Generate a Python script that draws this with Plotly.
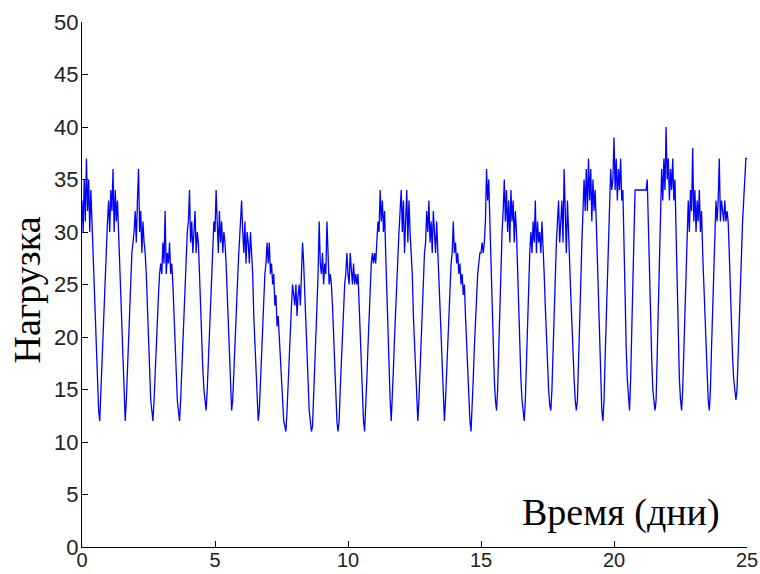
import numpy as np
import plotly.graph_objects as go

# Hourly load values, one list per day (hours 0..23)
day01 = [33, 30, 35, 31, 37, 32, 35, 30, 34, 31, 28, 24, 20, 17, 15, 13, 12, 15, 18, 21, 24, 27, 29, 31]
day02 = [33, 30, 34, 32, 36, 30, 34, 31, 33, 30, 27, 23, 20, 17, 14, 12, 14, 17, 20, 23, 26, 28, 29, 30]
day03 = [32, 29, 33, 36, 30, 32, 28, 31, 29, 28, 26, 23, 19, 16, 14, 13, 12, 14, 17, 20, 22, 24, 26, 27]
day04 = [26, 29, 27, 32, 26, 28, 27, 29, 26, 27, 25, 22, 19, 16, 14, 13, 12, 14, 17, 20, 23, 26, 28, 30]
day05 = [31, 34, 29, 31, 28, 30, 32, 28, 30, 29, 26, 22, 19, 17, 15, 14, 13, 15, 18, 21, 24, 27, 29, 31]
day06 = [30, 34, 31, 28, 32, 29, 31, 28, 30, 29, 27, 24, 20, 17, 15, 13, 14, 17, 20, 23, 25, 27, 29, 31]
day07 = [33, 30, 28, 31, 27, 30, 29, 27, 30, 28, 26, 22, 19, 16, 14, 12, 13, 16, 19, 22, 24, 26, 27, 29]
day08 = [27, 29, 26, 27, 25, 26, 23, 24, 21, 22, 20, 18, 16, 14, 12, 11.5, 11, 13, 16, 19, 21, 23, 25, 24]
day09 = [23, 25, 22, 24, 25, 23, 26, 29, 27, 24, 21, 18, 15, 13, 12, 11, 11.5, 14, 17, 20, 23, 26, 31, 27]
day10 = [26, 28, 25, 27, 26, 31, 27, 25, 26, 25, 23, 20, 17, 14, 12, 11, 12, 15, 18, 21, 23, 25, 26, 28]
day11 = [26, 25, 28, 26, 25, 27, 25, 26, 25, 26, 23, 20, 17, 14, 12, 11, 13, 16, 19, 22, 25, 27, 28, 27]
day12 = [28, 27, 29, 31, 30, 34, 31, 33, 30, 32, 28, 24, 20, 17, 14, 12, 14, 17, 20, 23, 26, 28, 30, 32]
day13 = [34, 30, 33, 28, 32, 34, 29, 33, 30, 28, 26, 22, 19, 16, 14, 12, 14, 17, 20, 23, 26, 28, 29, 32]
day14 = [30, 33, 29, 31, 28, 32, 30, 28, 31, 28, 26, 22, 19, 16, 14, 12, 14, 17, 20, 23, 25, 27, 28, 31]
day15 = [28, 29, 27, 28, 26, 27, 25, 26, 24, 25, 22, 19, 16, 14, 12, 11, 13, 16, 19, 22, 24, 26, 27, 28]
day16 = [28, 29, 28, 29, 31, 36, 33, 35, 31, 27, 23, 19, 16, 14, 13, 15, 19, 23, 27, 30, 32, 35, 31, 34]
day17 = [30, 33, 29, 34, 31, 33, 29, 32, 30, 26, 23, 19, 16, 14, 12.5, 12, 14, 18, 22, 25, 28, 30, 28, 31]
day18 = [29, 33, 28, 31, 29, 30, 28, 31, 29, 26, 23, 20, 17, 15, 13.5, 13, 15, 19, 23, 26, 29, 31, 33, 29]
day19 = [31, 33, 29, 36, 32, 28, 33, 29, 27, 24, 21, 18, 16, 14, 13, 14, 17, 21, 25, 29, 32, 35, 32, 36]
day20 = [32, 37, 33, 36, 31, 35, 32, 34, 31, 27, 23, 19, 16, 13, 12, 14, 18, 22, 26, 29, 33, 36, 34, 35]
day21 = [39, 34, 37, 33, 36, 34, 37, 33, 34, 28, 23, 19, 16, 14, 13, 16, 21, 26, 30, 34, 34, 34, 34, 34]
day22 = [34, 34, 34, 34, 34, 34, 35, 30, 26, 22, 18, 15, 13.5, 13, 14, 19, 24, 29, 33, 36, 33, 37, 34, 40]
day23 = [35, 37, 33, 36, 34, 37, 33, 35, 30, 25, 20, 16, 14, 13, 15, 19, 23, 27, 30, 33, 30, 34, 32, 38]
day24 = [31, 34, 30, 33, 31, 34, 30, 32, 28, 25, 22, 19, 16, 14, 13, 15, 19, 23, 27, 31, 33, 31, 33, 37]
day25 = [31, 33, 32, 31, 33, 31, 32, 31, 28, 24, 21, 18, 16, 14.5, 14, 15, 18, 22, 26, 29, 31, 33, 35, 37]
final_value = [37]

x_tick_values = [0, 5, 10, 15, 20, 25]
y_tick_values = [0, 5, 10, 15, 20, 25, 30, 35, 40, 45, 50]
y_label = "Нагрузка"
x_label = "Время (дни)"

days = [day01, day02, day03, day04, day05, day06, day07, day08, day09, day10,
        day11, day12, day13, day14, day15, day16, day17, day18, day19, day20,
        day21, day22, day23, day24, day25]
load = [v for d in days for v in d] + final_value
time_days = np.arange(len(load)) / 24.0

fig = go.Figure(go.Scatter(x=time_days, y=load, mode="lines",
                           line=dict(color="#0000FF", width=1.3),
                           hoverinfo="skip"))

tick_font = dict(family="Liberation Sans, Arial, sans-serif", size=22, color="#222222")
x_tick_font = dict(family="Liberation Sans, Arial, sans-serif", size=20, color="#222222")
fig.update_layout(
    template="none",
    width=760, height=574,
    margin=dict(l=82, r=13, t=22, b=27),
    paper_bgcolor="white", plot_bgcolor="white",
    showlegend=False,
)
fig.update_xaxes(range=[0, 25], tickvals=x_tick_values, ticks="inside", ticklen=6,
                 tickwidth=1, tickcolor="black", showline=True, linecolor="black",
                 linewidth=1, showgrid=False, zeroline=False, tickfont=x_tick_font,
                 automargin=False, ticklabelstandoff=-5)
fig.update_yaxes(range=[0, 50], tickvals=y_tick_values, ticks="inside", ticklen=6,
                 tickwidth=1, tickcolor="black", showline=True, linecolor="black",
                 linewidth=1, showgrid=False, zeroline=False, tickfont=tick_font,
                 automargin=False, ticklabelstandoff=-2)

label_font = dict(family="Liberation Serif, Times New Roman, serif", size=38, color="black")
fig.add_annotation(text=x_label, x=20.28, y=3.3, xref="x", yref="y",
                   xanchor="center", yanchor="middle", showarrow=False, font=label_font)
fig.add_annotation(text=y_label, x=-0.083, y=0.49, xref="paper", yref="paper",
                   xanchor="center", yanchor="middle", textangle=-90,
                   showarrow=False, font=label_font)

fig.write_html("out.html")
